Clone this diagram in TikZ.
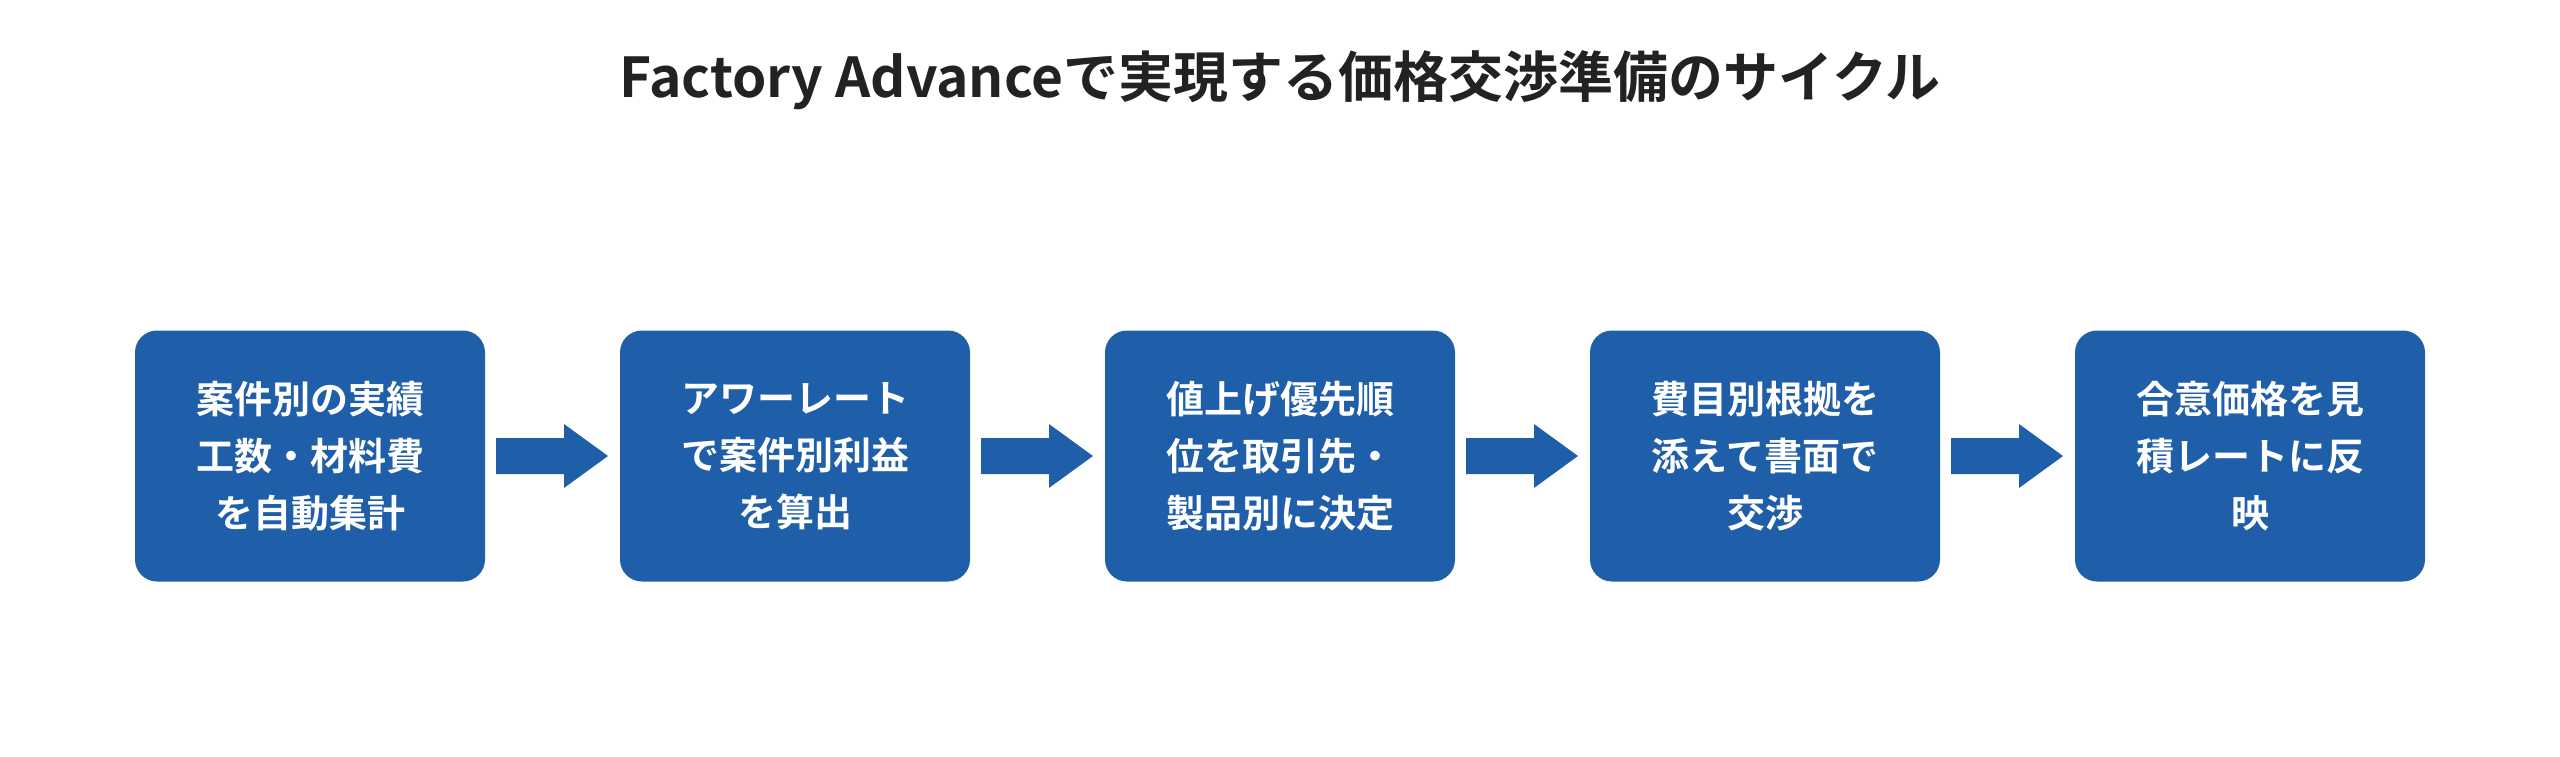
\documentclass[tikz,border=0pt]{standalone}
\usepackage{fontspec}
\setmainfont{Noto Sans CJK JP}[BoldFont={* Bold}]
\newfontfamily\cjkb{Noto Sans CJK JP Bold}
\definecolor{boxblue}{HTML}{1F5EA8}
\definecolor{titlec}{HTML}{222222}
\begin{document}
\begin{tikzpicture}[x=1pt,y=-1pt,
  stepbox/.style={fill=boxblue,rounded corners=22pt,minimum width=350pt,minimum height=251pt,text=white,align=center,font=\cjkb\fontsize{38}{57}\selectfont,inner sep=0pt},
  arr/.style={fill=boxblue}]
\useasboundingbox (0,0) rectangle (2560,756);
\node[font=\cjkb\fontsize{55}{60}\selectfont,text=titlec] (title) at (1280,80) {Factory Advanceで実現する価格交渉準備のサイクル};
\node[stepbox] (b1) at (310,456) {案件別の実績\\工数・材料費\\を自動集計};
\node[stepbox] (b2) at (795,456) {アワーレート\\で案件別利益\\を算出};
\node[stepbox] (b3) at (1280,456) {値上げ優先順\\位を取引先・\\製品別に決定};
\node[stepbox] (b4) at (1765,456) {費目別根拠を\\添えて書面で\\交渉};
\node[stepbox] (b5) at (2250,456) {合意価格を見\\積レートに反\\映};
\foreach \a in {0,1,2,3}{
  \pgfmathsetmacro{\sx}{496+485*\a}
  \fill[arr] (\sx,438) -- (\sx+68,438) -- (\sx+68,424) -- (\sx+112,456) -- (\sx+68,488) -- (\sx+68,474) -- (\sx,474) -- cycle;
}
\end{tikzpicture}
\end{document}
